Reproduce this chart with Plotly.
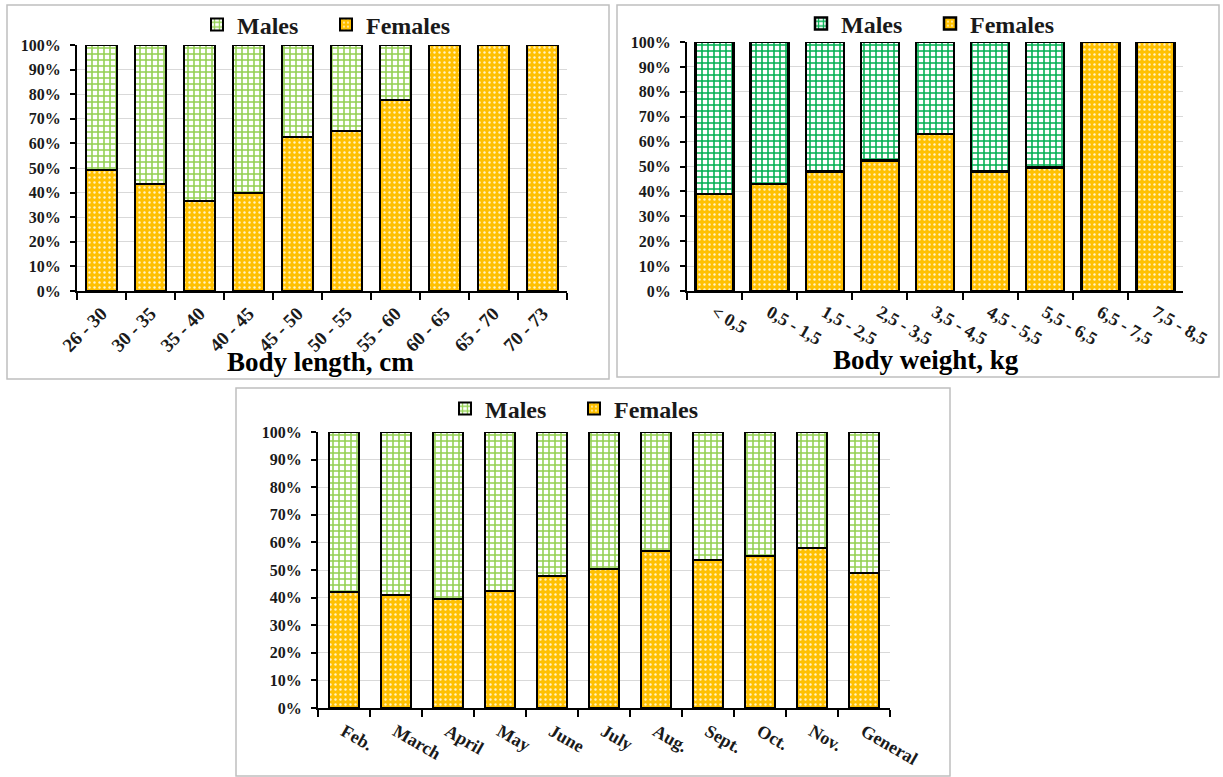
import plotly.graph_objects as go

# ---------------- data ----------------
length_cats = ["26 - 30", "30 - 35", "35 - 40", "40 - 45", "45 - 50",
               "50 - 55", "55 - 60", "60 - 65", "65 - 70", "70 - 73"]
length_females = [49, 43.5, 36.5, 40, 62.5, 65, 77.5, 100, 100, 100]
length_males = [51, 56.5, 63.5, 60, 37.5, 35, 22.5, 0, 0, 0]

weight_cats = ["< 0,5", "0,5 - 1,5", "1,5 - 2,5", "2,5 - 3,5", "3,5 - 4,5",
               "4,5 - 5,5", "5,5 - 6,5", "6,5 - 7,5", "7,5 - 8,5"]
weight_females = [39, 43, 48, 52.5, 63, 48, 49.5, 100, 100]
weight_males = [61, 57, 52, 47.5, 37, 52, 50.5, 0, 0]

month_cats = ["Feb.", "March", "April", "May", "June", "July", "Aug.",
              "Sept.", "Oct.", "Nov.", "General"]
month_females = [42, 41, 39.5, 42.5, 48, 50.5, 57, 53.5, 55, 58, 49]
month_males = [58, 59, 60.5, 57.5, 52, 49.5, 43, 46.5, 45, 42, 51]

y_tick_vals = [0, 10, 20, 30, 40, 50, 60, 70, 80, 90, 100]
y_tick_text = ["0%", "10%", "20%", "30%", "40%", "50%", "60%", "70%",
               "80%", "90%", "100%"]

# ---------------- style ----------------
W, H = 1223, 777
FONT = "Liberation Serif"
TXT = "#1a1a1a"
YELLOW = "#FFC000"
LIGHT_GREEN = "#92D050"
DARK_GREEN = "#00B050"


def px_x(p):
    return p / W


def px_y(p):
    return 1 - p / H


fig = go.Figure()


def add_panel(idx, cats, fem, mal, green, legend_name, width, lw):
    xa = "x" if idx == 1 else f"x{idx}"
    ya = "y" if idx == 1 else f"y{idx}"
    fig.add_trace(go.Bar(
        x=cats, y=fem, name="Females", xaxis=xa, yaxis=ya, legend=legend_name,
        legendrank=2, width=width,
        marker=dict(color=YELLOW, line=dict(color="black", width=lw),
                    pattern=dict(shape=".", fgcolor="#FFF3C4", bgcolor=YELLOW,
                                 size=5, solidity=0.18, fillmode="replace")),
        hoverinfo="x+y+name",
    ))
    fig.add_trace(go.Bar(
        x=cats, y=mal, name="Males", xaxis=xa, yaxis=ya, legend=legend_name,
        legendrank=1, width=width,
        marker=dict(color=green, line=dict(color="black", width=lw),
                    pattern=dict(shape="+", fgcolor=green, bgcolor="white",
                                 size=6, solidity=0.45, fillmode="replace")),
        hoverinfo="x+y+name",
    ))


add_panel(1, length_cats, length_females, length_males, LIGHT_GREEN, "legend", 0.63, 2)
add_panel(2, weight_cats, weight_females, weight_males, DARK_GREEN, "legend2", 0.69, 2.5)
add_panel(3, month_cats, month_females, month_males, LIGHT_GREEN, "legend3", 0.56, 2)


def xaxis_cfg(l, r, anchor, angle, size, standoff):
    return dict(
        domain=[px_x(l), px_x(r)], anchor=anchor, type="category",
        automargin=False,
        showline=True, linecolor="black", linewidth=2,
        ticks="outside", tickson="boundaries", ticklen=7, tickwidth=2,
        tickcolor="black", tickangle=angle, ticklabelstandoff=standoff,
        tickfont=dict(family=FONT, size=size, color=TXT, weight="bold"),
        showgrid=False, zeroline=False, fixedrange=True,
    )


def yaxis_cfg(top, bottom, anchor):
    return dict(
        domain=[px_y(bottom), px_y(top)], anchor=anchor, range=[0, 100],
        automargin=False,
        tickmode="array", tickvals=y_tick_vals, ticktext=y_tick_text,
        showline=True, linecolor="black", linewidth=2,
        ticks="outside", ticklen=5, tickwidth=2, tickcolor="black",
        ticklabelstandoff=6,
        tickfont=dict(family=FONT, size=16, color=TXT, weight="bold"),
        showgrid=True, gridcolor="#d9d9d9", gridwidth=1,
        zeroline=False, fixedrange=True,
    )


def legend_cfg(cx, cy, size):
    return dict(
        orientation="h", x=px_x(cx), y=px_y(cy), xanchor="center",
        yanchor="middle", bgcolor="rgba(0,0,0,0)",
        font=dict(family=FONT, size=size, color=TXT, weight="bold"),
        traceorder="normal", entrywidth=84, itemwidth=30,
    )


fig.update_layout(
    template="none",
    width=W, height=H, autosize=False,
    margin=dict(l=0, r=0, t=0, b=0, autoexpand=False),
    paper_bgcolor="white", plot_bgcolor="white",
    barmode="stack",
    xaxis=xaxis_cfg(77, 567, "y", -45, 19, 2),
    yaxis=yaxis_cfg(45, 291, "x"),
    xaxis2=xaxis_cfg(687, 1183, "y2", 30, 18, 2),
    yaxis2=yaxis_cfg(42, 291, "x2"),
    xaxis3=xaxis_cfg(318, 890, "y3", 30, 18, 4),
    yaxis3=yaxis_cfg(432, 708, "x3"),
    legend=legend_cfg(326, 25, 24),
    legend2=legend_cfg(930, 24, 24),
    legend3=legend_cfg(574, 409, 24),
    showlegend=True,
    shapes=[
        dict(type="rect", xref="paper", yref="paper",
             x0=px_x(7), x1=px_x(609), y0=px_y(379), y1=px_y(5),
             line=dict(color="#bfbfbf", width=1.5), layer="below"),
        dict(type="rect", xref="paper", yref="paper",
             x0=px_x(617), x1=px_x(1219), y0=px_y(377), y1=px_y(5),
             line=dict(color="#bfbfbf", width=1.5), layer="below"),
        dict(type="rect", xref="paper", yref="paper",
             x0=px_x(236), x1=px_x(950), y0=px_y(776), y1=px_y(388),
             line=dict(color="#bfbfbf", width=1.5), layer="below"),
    ],
    annotations=[
        dict(text="Body length, cm", xref="paper", yref="paper",
             x=px_x(320), y=px_y(362), xanchor="center", yanchor="middle",
             showarrow=False,
             font=dict(family=FONT, size=27, color="black", weight="bold")),
        dict(text="Body weight, kg", xref="paper", yref="paper",
             x=px_x(926), y=px_y(360), xanchor="center", yanchor="middle",
             showarrow=False,
             font=dict(family=FONT, size=27, color="black", weight="bold")),
    ],
)

fig.write_html(
    "out.html",
    config={"displayModeBar": False},
    post_script="document.body.style.margin='0';document.body.style.overflow='hidden';",
)
